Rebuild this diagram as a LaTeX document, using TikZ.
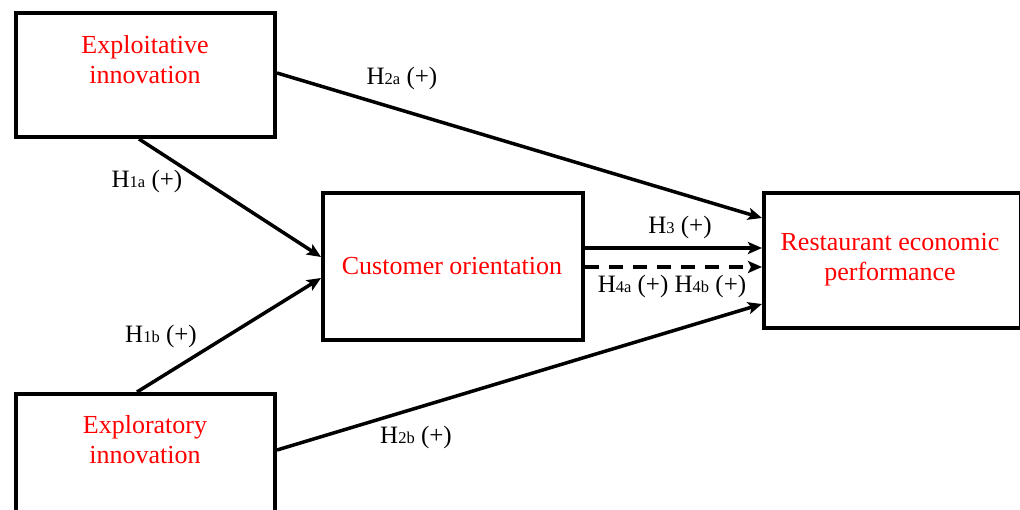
\documentclass[tikz,border=0pt]{standalone}
\usepackage{fontspec}
\setmainfont{Liberation Serif}
\usetikzlibrary{arrows.meta,calc}
\tikzset{
  box/.style={draw,line width=4pt,inner sep=0pt,anchor=north west},
  redtext/.style={text=red,font=\fontsize{26}{30}\selectfont,align=center,inner sep=0pt},
  arr/.style={line width=3.5pt,-{Stealth[length=14pt,width=12pt,inset=3pt]}},
  hyp/.style={font=\fontsize{25}{28}\selectfont,inner sep=0pt},
}
\newcommand{\hsub}[1]{H{\fontsize{16.5}{18}\selectfont #1}}
\begin{document}
\begin{tikzpicture}[x=1pt,y=-1pt]
\useasboundingbox (0,0) rectangle (1020,510);
% boxes
\node[box,minimum width=259pt,minimum height=124pt] (ei) at (14,11) {};
\node[box,minimum width=259pt,minimum height=140pt] (er) at (14,392) {};
\node[box,minimum width=260pt,minimum height=147pt] (co) at (321,191) {};
\node[box,minimum width=257pt,minimum height=135pt] (rp) at (762,191) {};
% texts
\node[redtext] (eit) at (145,60) {Exploitative\\innovation};
\node[redtext] (ert) at (145,440) {Exploratory\\innovation};
\node[redtext] (cot) at (452,266) {Customer orientation};
\node[redtext] (rpt) at (890,260) {Restaurant economic\\performance};
% connector end points
\coordinate (a1) at ([xshift=-6.5pt]ei.south);
\coordinate (a2) at ([yshift=9.5pt]co.west);
\coordinate (b1) at ([xshift=-8.5pt]er.north);
\coordinate (b2) at ([yshift=-11.5pt]co.west);
\coordinate (c1) at ([yshift=2pt]ei.east);
\coordinate (c2) at ([yshift=42.5pt]rp.west);
\coordinate (d1) at ([yshift=14pt]er.east);
\coordinate (d2) at ([yshift=-43.5pt]rp.west);
\coordinate (e1) at ([yshift=18.5pt]co.east);
\coordinate (e2) at ([yshift=12.5pt]rp.west);
\coordinate (f1) at ([yshift=-0.5pt]co.east);
\coordinate (f2) at ([yshift=-6.5pt]rp.west);
% connectors
\draw[arr] (a1) -- (a2);
\draw[arr] (b1) -- (b2);
\draw[arr] (c1) -- (c2);
\draw[arr] (d1) -- (d2);
\draw[arr] (e1) -- (e2);
\draw[arr,dash pattern=on 14pt off 10pt] (f1) -- (f2);
% labels
\node[hyp] (l1) at (147,181) {\hsub{1a} (+)};
\node[hyp] (l2) at (161,336) {\hsub{1b} (+)};
\node[hyp] (l3) at (402,78) {\hsub{2a} (+)};
\node[hyp] (l4) at (416,437) {\hsub{2b} (+)};
\node[hyp] (l5) at (680,227) {\hsub{3} (+)};
\node[hyp] (l6) at (672,286) {\hsub{4a} (+) \hsub{4b} (+)};
\end{tikzpicture}
\end{document}
